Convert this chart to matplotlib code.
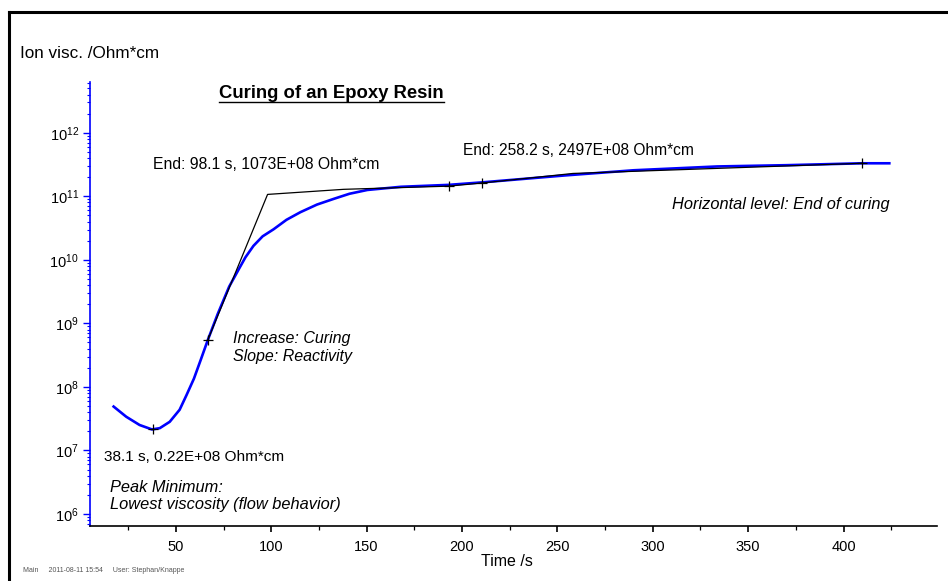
import numpy as np
import matplotlib
matplotlib.use("Agg")
import matplotlib.pyplot as plt
from matplotlib.lines import Line2D
from matplotlib.ticker import LogLocator, NullFormatter, MultipleLocator

plt.rcParams['font.family'] = ['Liberation Sans', 'DejaVu Sans']
plt.rcParams['mathtext.fontset'] = 'custom'
plt.rcParams['mathtext.rm'] = 'Liberation Sans'

# ion viscosity curve (time in s, log10 of Ohm*cm)
time_s = [17.4, 24, 31, 37.5, 41.6, 46.8, 52, 55.6, 59.5, 63, 66.8, 72, 78,
          83.7, 86.5, 90.7, 95.5, 101.2, 108, 115.3, 124, 132.8, 141, 150.4,
          168, 193, 210.7, 254.5, 290, 333.7, 370, 409.8, 424]
log_visc = [7.69, 7.53, 7.40, 7.33, 7.35, 7.45, 7.64, 7.87, 8.13, 8.42, 8.74,
            9.15, 9.58, 9.89, 10.04, 10.22, 10.37, 10.48, 10.63, 10.75, 10.87,
            10.96, 11.04, 11.10, 11.15, 11.18, 11.22, 11.33, 11.41, 11.47,
            11.49, 11.52, 11.52]

# tangent construction (black line)
tan_time = [66.8, 98.1, 138, 193, 210.7, 258.2, 409.8]
tan_log = [8.74, 11.03, 11.11, 11.16, 11.21, 11.36, 11.52]

# evaluation crosses
mark_time = [38.1, 66.8, 193, 210.7, 409.8]
mark_log = [7.34, 8.74, 11.16, 11.21, 11.52]

visc = 10 ** np.array(log_visc)
tan_visc = 10 ** np.array(tan_log)
mark_visc = 10 ** np.array(mark_log)

fig = plt.figure(figsize=(9.48, 5.81), dpi=100)
ax = fig.add_axes([0.0949, 0.0947, 0.8935, 0.7642])

ax.plot(time_s, visc, color='#0000ff', lw=1.9, zorder=2)
ax.plot(tan_time, tan_visc, color='black', lw=0.9, zorder=3)
ax.plot(mark_time, mark_visc, '+', color='black', ms=7, mew=0.9, zorder=4)

ax.set_yscale('log')
ax.set_xlim(5, 449)
ax.set_ylim(10 ** 5.81, 10 ** 12.8)
ax.xaxis.set_major_locator(MultipleLocator(50))
ax.xaxis.set_minor_locator(MultipleLocator(25))
ax.yaxis.set_major_locator(LogLocator(base=10, numticks=20))
ax.yaxis.set_minor_locator(LogLocator(base=10, subs=np.arange(2, 10), numticks=50))
ax.yaxis.set_minor_formatter(NullFormatter())

for s in ['top', 'right']:
    ax.spines[s].set_visible(False)
ax.spines['left'].set_color('#0000ff')
ax.spines['left'].set_linewidth(1.2)
ax.spines['bottom'].set_color('black')
ax.spines['bottom'].set_linewidth(1.2)
ax.tick_params(axis='y', which='major', colors='#0000ff', labelcolor='black',
               length=5, width=1, labelsize=10.5, pad=3)
ax.tick_params(axis='y', which='minor', colors='#0000ff', length=2.5, width=0.8)
ax.tick_params(axis='x', which='major', length=4, width=1.2, labelsize=10.5, pad=6)
ax.tick_params(axis='x', which='minor', length=3, width=0.9)

# annotations
ax.text(37.9, 10 ** 11.50, 'End: 98.1 s, 1073E+08 Ohm*cm', fontsize=11.3, va='center')
ax.text(200.5, 10 ** 11.72, 'End: 258.2 s, 2497E+08 Ohm*cm', fontsize=11.2, va='center')
ax.text(424, 10 ** 10.87, 'Horizontal level: End of curing', fontsize=11.8,
        style='italic', ha='right', va='center')
ax.text(80, 10 ** 8.62, 'Increase: Curing\nSlope: Reactivity', fontsize=11.5,
        style='italic', va='center', linespacing=1.2)
ax.text(12.6, 10 ** 6.90, '38.1 s, 0.22E+08 Ohm*cm', fontsize=11.1, va='center')
ax.text(15.3, 10 ** 6.28, 'Peak Minimum:\nLowest viscosity (flow behavior)',
        fontsize=11.8, style='italic', va='center', linespacing=1.2)

W, H = 948, 581
title = fig.text(331.5 / W, 1 - 93 / H, 'Curing of an Epoxy Resin', fontsize=13.3,
                 fontweight='bold', ha='center', va='center')
fig.text(20 / W, 1 - 54 / H, 'Ion visc. /Ohm*cm', fontsize=12.3, va='center')
fig.text(507 / W, 1 - 561 / H, 'Time /s', fontsize=11.5, ha='center', va='center')
fig.text(23 / W, 1 - 571 / H, 'Main     2011-08-11 15:54     User: Stephan/Knappe',
         fontsize=5, color='#555555', va='center')

# underline the title
fig.canvas.draw()
bb = title.get_window_extent().transformed(fig.transFigure.inverted())
fig.add_artist(Line2D([bb.x0, bb.x1], [1 - 102 / H, 1 - 102 / H], color='black', lw=1))

# page frame (top and left)
fig.add_artist(Line2D([9 / W, 1], [1 - 12 / H, 1 - 12 / H], color='black', lw=2.2))
fig.add_artist(Line2D([9 / W, 9 / W], [0, 1 - 12 / H], color='black', lw=2.2))

fig.savefig('out.png', dpi=100)
